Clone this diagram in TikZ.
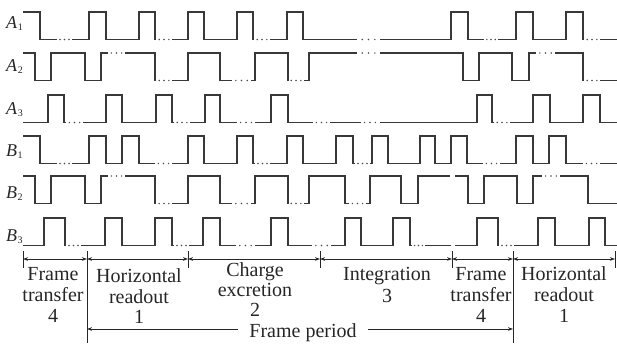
\documentclass[tikz,border=0pt]{standalone}
\usepackage{fontspec}
\setmainfont{Liberation Serif}
\usetikzlibrary{arrows.meta}
\newcommand\Lo{27.5}
\newcommand\mydots[3]{\foreach \t in {0.2,0.5,0.8}{\fill[black!70] ({#1+\t*(#2-#1)},#3) circle (0.8);}}
\newcommand\rsub[1]{\kern0.5pt\raisebox{-2.5pt}{\fontsize{10}{10}\selectfont #1}}
\tikzset{
  wave/.style={line width=1.1pt, draw=black!78, line join=miter},
  rowlab/.style={anchor=base west, inner sep=0pt, text=black!85, font=\fontsize{18}{20}\selectfont},
  lab/.style={anchor=base, inner sep=0pt, text=black!85, font=\fontsize{20}{22}\selectfont},
  dimline/.style={line width=0.8pt, draw=black!85},
  tip/.style={{Stealth[length=5pt,width=3.6pt]}-{Stealth[length=5pt,width=3.6pt]}},
}
\begin{document}
\begin{tikzpicture}[x=1pt,y=-1pt]
\useasboundingbox (0,0) rectangle (617,343);
% row labels
\node[rowlab] (lA1) at (6,28) {\textit{A}\rsub{1}};
\node[rowlab] (lA2) at (6,71) {\textit{A}\rsub{2}};
\node[rowlab] (lA3) at (6,114) {\textit{A}\rsub{3}};
\node[rowlab] (lB1) at (6,156) {\textit{B}\rsub{1}};
\node[rowlab] (lB2) at (6,198) {\textit{B}\rsub{2}};
\node[rowlab] (lB3) at (6,241) {\textit{B}\rsub{3}};
% A1
\begin{scope}[shift={(0,12)}]
\draw[wave] (23,0) -| (40,\Lo) -- (57,\Lo);
\mydots{57}{72}{\Lo}
\draw[wave] (72,\Lo) -| (89,0) -| (106,\Lo) -| (139,0) -| (155,\Lo);
\mydots{156}{172}{\Lo}
\draw[wave] (172,\Lo) -| (188,0) -| (204,\Lo) -| (237,0) -| (253,\Lo);
\mydots{254}{270}{\Lo}
\draw[wave] (270,\Lo) -| (287,0) -| (303,\Lo) -- (357,\Lo);
\mydots{358}{379}{\Lo}
\draw[wave] (380,\Lo) -| (451,0) -| (468,\Lo) -- (484,\Lo);
\mydots{484}{498}{\Lo}
\draw[wave] (498,\Lo) -| (516,0) -| (533,\Lo) -| (566,0) -| (583,\Lo);
\mydots{584}{600}{\Lo}
\draw[wave] (600,\Lo) -- (617,\Lo);
\end{scope}
% A2
\begin{scope}[shift={(0,53)}]
\draw[wave] (23,0) -| (35,\Lo) -| (51,0) -| (85,\Lo) -| (101,0) -- (108,0);
\mydots{108}{125}{0}
\draw[wave] (125,0) -| (155,\Lo);
\mydots{156}{172}{\Lo}
\draw[wave] (172,\Lo) -| (188,0) -| (220,\Lo) -- (232,\Lo);
\mydots{232}{251}{\Lo}
\draw[wave] (251,\Lo) -| (255,0) -| (288,\Lo);
\mydots{288}{304}{\Lo}
\draw[wave] (304,\Lo) -| (309,0) -- (357,0);
\mydots{358}{379}{0}
\draw[wave] (380,0) -| (463,\Lo) -| (479,0) -| (512,\Lo) -| (529,0) -- (536,0);
\mydots{536}{555}{0}
\draw[wave] (555,0) -| (583,\Lo);
\mydots{584}{600}{\Lo}
\draw[wave] (600,\Lo) -- (617,\Lo);
\end{scope}
% A3
\begin{scope}[shift={(0,95)}]
\draw[wave] (23,\Lo) -| (48,0) -| (64,\Lo) -- (66,\Lo);
\mydots{66}{83}{\Lo}
\draw[wave] (83,\Lo) -| (106,0) -| (122,\Lo) -| (156,0) -| (172,\Lo) -- (174,\Lo);
\mydots{174}{190}{\Lo}
\draw[wave] (190,\Lo) -| (205,0) -| (220,\Lo) -- (237,\Lo);
\mydots{237}{255}{\Lo}
\draw[wave] (255,\Lo) -| (271,0) -| (288,\Lo) -- (313,\Lo);
\mydots{313}{330}{\Lo}
\draw[wave] (330,\Lo) -- (361,\Lo);
\mydots{361}{379}{\Lo}
\draw[wave] (380,\Lo) -| (477,0) -| (492,\Lo) -- (494,\Lo);
\mydots{494}{510}{\Lo}
\draw[wave] (510,\Lo) -| (533,0) -| (550,\Lo) -| (583,0) -| (600,\Lo) -- (617,\Lo);
\end{scope}
% B1
\begin{scope}[shift={(0,136)}]
\draw[wave] (23,0) -| (40,\Lo) -- (57,\Lo);
\mydots{57}{72}{\Lo}
\draw[wave] (72,\Lo) -| (89,0) -| (106,\Lo) -| (122,0) -| (139,\Lo) -- (155,\Lo);
\mydots{155}{172}{\Lo}
\draw[wave] (172,\Lo) -| (188,0) -| (204,\Lo) -| (237,0) -| (253,\Lo) -- (255,\Lo);
\mydots{255}{270}{\Lo}
\draw[wave] (270,\Lo) -| (287,0) -| (303,\Lo) -| (336,0) -| (353,\Lo) -- (355,\Lo);
\mydots{355}{370}{\Lo}
\draw[wave] (370,\Lo) -| (372,0) -| (388,\Lo) -| (420,0) -| (435,\Lo) -| (451,0) -| (467,\Lo) -- (483,\Lo);
\mydots{483}{500}{\Lo}
\draw[wave] (500,\Lo) -| (516,0) -| (533,\Lo) -| (549,0) -| (566,\Lo) -- (583,\Lo);
\mydots{583}{600}{\Lo}
\draw[wave] (600,\Lo) -- (617,\Lo);
\end{scope}
% B2
\begin{scope}[shift={(0,176)}]
\draw[wave] (23,0) -| (35,\Lo) -| (51,0) -| (85,\Lo) -| (101,0) -- (108,0);
\mydots{108}{125}{0}
\draw[wave] (125,0) -| (155,\Lo);
\mydots{156}{172}{\Lo}
\draw[wave] (172,\Lo) -| (188,0) -| (220,\Lo) -- (232,\Lo);
\mydots{232}{251}{\Lo}
\draw[wave] (251,\Lo) -| (255,0) -| (288,\Lo);
\mydots{288}{304}{\Lo}
\draw[wave] (304,\Lo) -| (309,0) -| (345,\Lo) -- (349,\Lo);
\mydots{349}{366}{\Lo}
\draw[wave] (366,\Lo) -| (370,0) -| (401,\Lo) -| (418,0) -- (450,0);
\draw[wave] (455,0) -| (468,\Lo) -| (484,0) -| (517,\Lo) -| (533,0) -- (542,0);
\mydots{542}{560}{0}
\draw[wave] (560,0) -| (588,\Lo) -- (617,\Lo);
\end{scope}
% B3
\begin{scope}[shift={(0,218)}]
\draw[wave] (23,\Lo) -| (44,0) -| (65,\Lo) -- (66,\Lo);
\mydots{66}{81}{\Lo}
\draw[wave] (81,\Lo) -| (105,0) -| (122,\Lo) -| (155,0) -| (172,\Lo) -- (174,\Lo);
\mydots{174}{189}{\Lo}
\draw[wave] (189,\Lo) -| (203,0) -| (220,\Lo) -- (236,\Lo);
\mydots{236}{255}{\Lo}
\draw[wave] (255,\Lo) -| (271,0) -| (288,\Lo) -- (312,\Lo);
\mydots{312}{331}{\Lo}
\draw[wave] (331,\Lo) -| (345,0) -| (361,\Lo) -| (393,0) -| (410,\Lo) -- (412,\Lo);
\mydots{412}{425}{\Lo}
\draw[wave] (425,\Lo) -- (451,\Lo);
\draw[wave] (455,\Lo) -| (477,0) -| (498,\Lo) -- (499,\Lo);
\mydots{499}{514}{\Lo}
\draw[wave] (514,\Lo) -| (538,0) -| (555,\Lo) -| (589,0) -| (605,\Lo) -- (617,\Lo);
\end{scope}
% dimension boundaries
\coordinate (b0) at (23,259);
\coordinate (b1) at (87,259);
\coordinate (b2) at (188,259);
\coordinate (b3) at (320,259);
\coordinate (b4) at (452,259);
\coordinate (b5) at (513,259);
\coordinate (b6) at (615,259);
\foreach \b in {b0,b2,b3,b4,b6}{\draw[dimline] ([yshift=8pt]\b) -- ([yshift=-9pt]\b);}
\draw[dimline] ([yshift=8pt]b1) -- (b1 |- 0,343);
\draw[dimline] ([yshift=8pt]b5) -- (b5 |- 0,343);
\draw[dimline,tip] (b0) -- (b1);
\draw[dimline,tip] (b1) -- (b2);
\draw[dimline,tip] (b2) -- (b3);
\draw[dimline,tip] (b3) -- (b4);
\draw[dimline,tip] (b4) -- (b5);
\draw[dimline,tip] (b5) -- (b6);
% labels
\node[lab] (ft1a) at (53,280) {Frame};
\node[lab] (ft1b) at (53,301) {transfer};
\node[lab] (ft1c) at (53,322) {4};
\node[lab] (hr1a) at (139,282) {Horizontal};
\node[lab] (hr1b) at (139,303) {readout};
\node[lab] (hr1c) at (139,323) {1};
\node[lab] (ce2a) at (255,276) {Charge};
\node[lab] (ce2b) at (255,296) {excretion};
\node[lab] (ce2c) at (255,316) {2};
\node[lab] (in3a) at (387,280) {Integration};
\node[lab] (in3b) at (387,302) {3};
\node[lab] (ft2a) at (481,280) {Frame};
\node[lab] (ft2b) at (481,301) {transfer};
\node[lab] (ft2c) at (481,322) {4};
\node[lab] (hr2a) at (564,280) {Horizontal};
\node[lab] (hr2b) at (564,301) {readout};
\node[lab] (hr2c) at (564,322) {1};
% frame period
\node[lab] (fp) at (303,337) {Frame period};
\coordinate (fpL) at (238,329);
\coordinate (fpR) at (368,329);
\draw[dimline,-{Stealth[length=5pt,width=3.6pt]}] (fpL) -- (b1 |- fpL);
\draw[dimline,-{Stealth[length=5pt,width=3.6pt]}] (fpR) -- (b5 |- fpR);
\end{tikzpicture}
\end{document}
